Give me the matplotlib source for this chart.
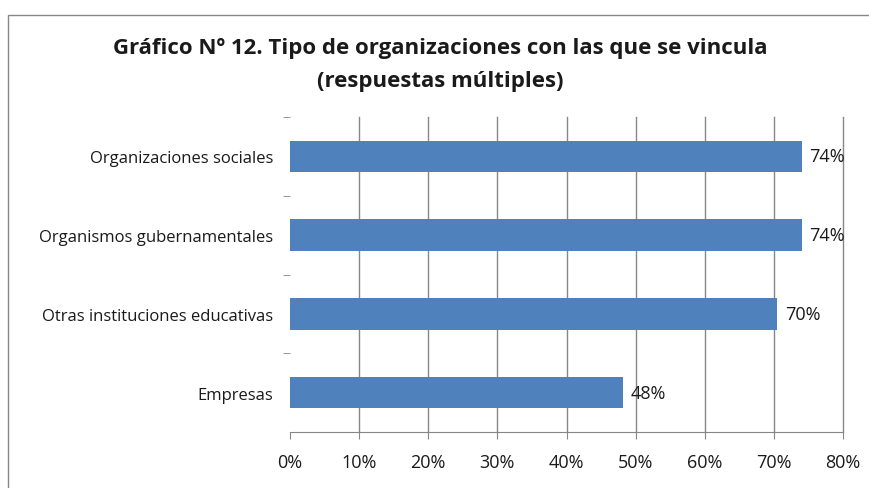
import matplotlib
matplotlib.use("Agg")
import matplotlib.pyplot as plt
import matplotlib.ticker as mticker
from matplotlib.patches import Rectangle

# ── Datos ─────────────────────────────────────────────────────────────────────
categorias = ["Organizaciones sociales", "Organismos gubernamentales",
              "Otras instituciones educativas", "Empresas"]
valores = [74, 74, 70.5, 48.2]
etiquetas = ["74%", "74%", "70%", "48%"]
ticks_x = [0, 10, 20, 30, 40, 50, 60, 70, 80]

BAR = "#4F81BD"
GRID = "#878787"
TEXT = "#1A1A1A"
FONT = ["Open Sans", "DejaVu Sans"]

fig = plt.figure(figsize=(8.69, 4.89), dpi=100, facecolor="white")

# marco del gráfico (recortado a derecha y abajo)
fig.patches.append(Rectangle((8 / 869, -0.05), 1.2, 1 - 16 / 489 + 0.05,
                             transform=fig.transFigure, fill=False,
                             edgecolor=GRID, linewidth=1.0))

ax = fig.add_axes([290 / 869, 1 - 433 / 489, 553 / 869, 315 / 489])
y = list(range(len(categorias)))
ax.barh(y, valores, height=0.4, color=BAR, zorder=3)

for yi, v, lab in zip(y, valores, etiquetas):
    ax.text(v + 1.1, yi, lab, va="center", ha="left", fontsize=13,
            color=TEXT, family=FONT)

ax.set_ylim(len(categorias) - 0.5, -0.5)
ax.set_xlim(0, 80)
ax.set_xticks(ticks_x)
ax.xaxis.set_major_formatter(mticker.FuncFormatter(lambda v, _: f"{v:.0f}%"))
# líneas de división verticales (sin la de 0%)
for xv in ticks_x[1:]:
    ax.axvline(xv, color=GRID, linewidth=1.0, zorder=0, clip_on=False)

ax.set_yticks(y)
ax.set_yticklabels(categorias, fontsize=12, color=TEXT, family=FONT)
ax.yaxis.set_minor_locator(mticker.FixedLocator([-0.5, 0.5, 1.5, 2.5]))
ax.tick_params(axis="y", which="major", length=0, pad=12)
ax.tick_params(axis="y", which="minor", length=5, color=GRID)
ax.tick_params(axis="x", length=5, color=GRID, labelsize=13,
               labelcolor=TEXT, pad=10)
for lab in ax.get_xticklabels():
    lab.set_family(FONT)

for s in ["top", "right", "left"]:
    ax.spines[s].set_visible(False)
ax.spines["bottom"].set_color(GRID)

fig.text(440 / 869, 1 - 49 / 489,
         "Gráfico Nº 12. Tipo de organizaciones con las que se vincula",
         ha="center", va="center", fontsize=16, fontweight="bold",
         color=TEXT, family=FONT)
fig.text(440 / 869, 1 - 82 / 489, "(respuestas múltiples)",
         ha="center", va="center", fontsize=16, fontweight="bold",
         color=TEXT, family=FONT)

fig.savefig("out.png", dpi=100, facecolor="white")
plt.close(fig)
